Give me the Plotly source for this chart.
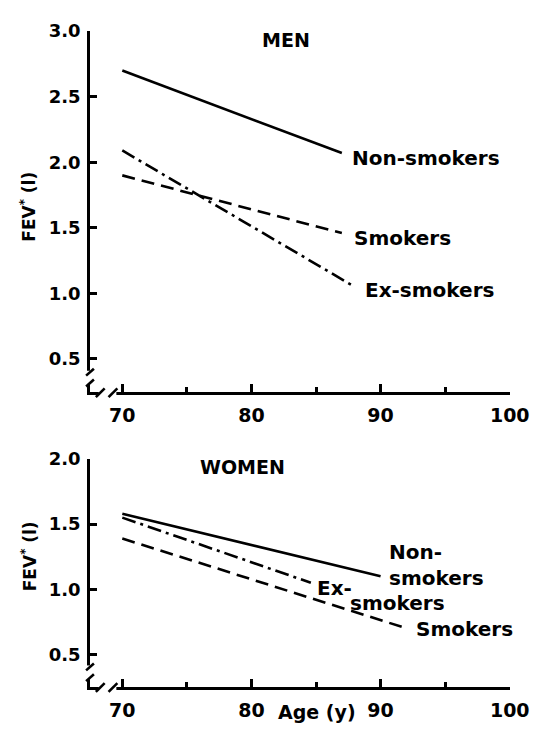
import plotly.graph_objects as go

# ---------------- data ----------------
age_ticks = [70, 80, 90, 100]
age_minor = [75, 85, 95]
men_y_ticks = [0.5, 1.0, 1.5, 2.0, 2.5, 3.0]
women_y_ticks = [0.5, 1.0, 1.5, 2.0]

men_non_age = [70, 87]
men_non_fev = [2.70, 2.07]
men_smk_age = [70, 87]
men_smk_fev = [1.90, 1.46]
men_ex_age = [70, 88]
men_ex_fev = [2.09, 1.05]

women_non_age = [70, 90]
women_non_fev = [1.58, 1.10]
women_smk_age = [70, 91.7]
women_smk_fev = [1.39, 0.71]
women_ex_age = [70, 84.6]
women_ex_fev = [1.55, 1.05]

# ---------------- layout constants ----------------
# The page body has a default 8px margin, so the figure is drawn 8px in.
OFF = 8
W, H = 542 - OFF, 733 - OFF
ML, MT = 90 - OFF, 21 - OFF
MR, MB = 22, 42
PW, PH = W - ML - MR, H - MT - MB

def px(x):
    """window pixel x -> paper coordinate"""
    return (x - OFF - ML) / PW

def py(y):
    """window pixel y -> paper coordinate"""
    return (H - MB - (y - OFF)) / PH

FONT = "DejaVu Sans"
LW = 2.6
SOLID = "solid"
DASH = "13px,7px"
DASHDOT = "14px,5px,3px,5px"

fig = go.Figure()

def add(xs, ys, dash, xa, ya):
    fig.add_trace(go.Scatter(x=xs, y=ys, mode="lines", xaxis=xa, yaxis=ya,
                             line=dict(color="black", width=LW, dash=dash),
                             showlegend=False, hoverinfo="skip"))

add(men_non_age, men_non_fev, SOLID, "x", "y")
add(men_smk_age, men_smk_fev, DASH, "x", "y")
add(men_ex_age, men_ex_fev, DASHDOT, "x", "y")
add(women_non_age, women_non_fev, SOLID, "x2", "y2")
add(women_smk_age, women_smk_fev, DASH, "x2", "y2")
add(women_ex_age, women_ex_fev, DASHDOT, "x2", "y2")

tickfont = dict(family=FONT, size=19, color="black", weight="bold")

def xaxis_cfg(anchor):
    return dict(range=[67.5, 100.02], domain=[0, 1], anchor=anchor,
                tickvals=age_ticks, ticktext=[str(v) for v in age_ticks],
                ticks="inside", ticklen=8, tickwidth=LW, tickcolor="black",
                showline=True, linewidth=LW, linecolor="black",
                showgrid=False, zeroline=False, tickfont=tickfont,
                ticklabelstandoff=4,
                minor=dict(tickvals=age_minor, ticks="inside", ticklen=5,
                           tickwidth=LW, tickcolor="black", showgrid=False))

def yaxis_cfg(anchor, rng, dom, vals):
    return dict(range=rng, domain=dom, anchor=anchor,
                tickvals=vals, ticktext=["%.1f" % v for v in vals],
                ticks="inside", ticklen=7, tickwidth=LW, tickcolor="black",
                showline=True, linewidth=LW, linecolor="black",
                showgrid=False, zeroline=False,
                tickfont=dict(family=FONT, size=18, color="black", weight="bold"),
                ticklabelstandoff=3)

top_dom = [py(390), py(21)]
bot_dom = [py(691), py(458)]

fig.update_layout(
    width=W, height=H,
    margin=dict(l=ML, r=MR, t=MT, b=MB),
    paper_bgcolor="white", plot_bgcolor="white",
    xaxis=xaxis_cfg("y"),
    yaxis=yaxis_cfg("x", [0.246, 3.001], top_dom, men_y_ticks),
    xaxis2=xaxis_cfg("y2"),
    yaxis2=yaxis_cfg("x2", [0.25, 2.001], bot_dom, women_y_ticks),
)

# ---------------- axis break marks ----------------
shapes = []

def seg(x0, y0, x1, y1, color="black", w=LW):
    shapes.append(dict(type="line", xref="paper", yref="paper",
                       x0=px(x0), y0=py(y0), x1=px(x1), y1=py(y1),
                       line=dict(color=color, width=w), layer="above"))

def rect(x0, y0, x1, y1):
    shapes.append(dict(type="rect", xref="paper", yref="paper",
                       x0=px(x0), y0=py(y0), x1=px(x1), y1=py(y1),
                       fillcolor="white", line=dict(width=0), layer="above"))

for base in (390, 691):
    ax = 90
    # y-axis gap
    rect(ax - 4, base - 22, ax + 4, base - 8)
    seg(ax - 4, base - 17, ax + 4, base - 24)
    seg(ax - 4, base - 6, ax + 4, base - 13)
    # x-axis gap
    rect(ax + 9, base - 4, ax + 27, base + 4)
    seg(ax + 6, base + 5, ax + 15, base - 4)
    seg(ax + 19, base + 5, ax + 28, base - 4)

fig.update_layout(shapes=shapes)

# ---------------- text ----------------
lab = dict(family=FONT, size=20, color="black", weight="bold")
ann = []

def label(text, x, y, xr, yr, xs, ys, h=None):
    a = dict(text=text, x=x, y=y, xref=xr, yref=yr, xanchor="left",
             yanchor="middle", xshift=xs, yshift=ys, showarrow=False,
             font=lab, borderpad=0, align="left")
    if h is not None:
        a["height"] = h
    ann.append(a)

label("Non-smokers", men_non_age[-1], men_non_fev[-1], "x", "y", 9, -5)
label("Smokers", men_smk_age[-1], men_smk_fev[-1], "x", "y", 11, -5)
label("Ex-smokers", men_ex_age[-1], men_ex_fev[-1], "x", "y", 9, -3)

label("Non-<br>smokers", women_non_age[-1], women_non_fev[-1], "x2", "y2", 7, 11)
label("Ex-", women_ex_age[-1], women_ex_fev[-1], "x2", "y2", 5, -5, h=18)
label("smokers", women_ex_age[-1], women_ex_fev[-1], "x2", "y2", 38, -20, h=18)
label("Smokers", women_smk_age[-1], women_smk_fev[-1], "x2", "y2", 12, -2)

def ptext(text, x, y, size=19, angle=0):
    ann.append(dict(text=text, x=px(x), y=py(y), xref="paper", yref="paper",
                    xanchor="center", yanchor="middle", showarrow=False,
                    textangle=angle,
                    font=dict(family=FONT, size=size, color="black", weight="bold")))

ptext("MEN", 291, 30)
ptext("WOMEN", 246, 466)
ptext("FEV<sup>*</sup> (l)", 27, 200, size=17, angle=-90)
ptext("FEV<sup>*</sup> (l)", 27, 557, size=17, angle=-90)
ptext("Age (y)", 322, 717)

fig.update_layout(annotations=ann)

fig.write_html("out.html")
